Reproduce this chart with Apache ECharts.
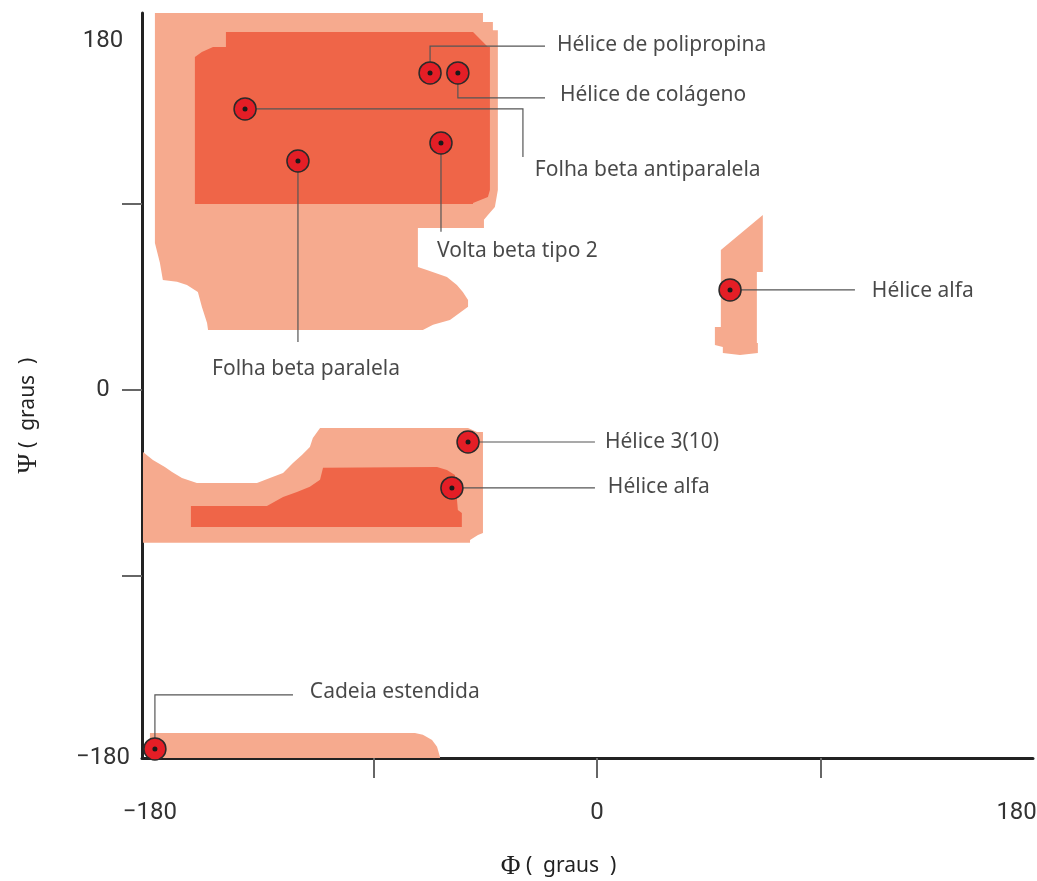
<!DOCTYPE html>
<html>
<head>
<meta charset="utf-8">
<script src="https://cdn.jsdelivr.net/npm/echarts@6/dist/echarts.min.js"></script>
<style>
  html, body { margin: 0; padding: 0; background: #fff; }
  #chart { width: 1037px; height: 881px; }
</style>
</head>
<body>
<div id="chart"></div>
<script>
// eixos (graus)
const phiTicks = [-90, 0, 90];
const psiTicks = [-90, 0, 90];
const phiLabelAt = [-180, 0, 169];
const psiLabelAt = [-178, 0, 169];
const tickText = ['\u2212180', '0', '180'];

// regiões permitidas [phi, psi]
const lightTop = [[-178.0, 182.4], [-45.9, 182.4], [-45.9, 178.0], [-41.9, 178.0], [-41.9, 174.0],
  [-39.9, 174.0], [-39.9, 96.8],
  [-41.1, 88.5], [-43.9, 84.7], [-45.5, 82.3], [-45.5, 78.4], [-72.1, 78.4], [-72.1, 59.5],
  [-68.5, 58.1], [-60.4, 54.7], [-56.4, 50.8], [-54.0, 47.4], [-51.9, 43.5], [-51.9, 40.2],
  [-55.2, 37.3], [-59.2, 33.9], [-66.0, 31.5], [-70.1, 29.0], [-156.6, 29.0], [-157.0, 32.4],
  [-159.1, 40.2], [-160.7, 47.4], [-165.1, 50.8], [-169.1, 52.3], [-174.8, 53.2], [-176.0, 61.5],
  [-178.0, 71.1]];
const lightRight = [[66.8, 84.7], [49.9, 67.7], [49.9, 30.5], [47.5, 30.5], [47.5, 21.8], [50.7, 20.8],
  [50.7, 17.9], [57.6, 16.9], [64.8, 17.9], [64.8, 22.7], [64.4, 22.7], [64.4, 57.1], [66.8, 57.1]];
const lightMid = [[-182.8, -30.0], [-178.8, -33.9], [-174.0, -37.3], [-171.1, -39.7], [-167.1, -42.6],
  [-161.1, -45.0], [-136.9, -45.0], [-131.7, -42.6], [-126.4, -40.2], [-122.4, -35.3], [-118.8, -31.5],
  [-115.6, -27.6], [-114.4, -23.2], [-111.5, -18.4], [-51.9, -18.4], [-48.3, -20.3], [-45.9, -20.3],
  [-45.9, -69.2], [-47.9, -70.2], [-51.1, -72.6], [-51.1, -74.0], [-182.8, -74.0]];
const lightBottom = [[-180.0, -166.0], [-73.3, -166.0], [-70.1, -166.9], [-66.4, -169.4], [-64.4, -172.7],
  [-63.2, -177.6], [-63.2, -178.1], [-180.0, -178.1]];
const darkTop = [[-149.4, 173.2], [-49.9, 173.2], [-43.9, 166.0], [-43.1, 166.0], [-43.1, 96.8],
  [-43.9, 93.4], [-49.9, 90.5], [-49.9, 90.0], [-161.9, 90.0], [-161.9, 161.1], [-159.1, 163.5],
  [-154.6, 166.0], [-149.4, 166.0]];
const darkMid = [[-163.5, -66.3], [-163.5, -56.1], [-132.9, -56.1], [-126.4, -51.8], [-120.8, -49.4],
  [-115.6, -46.9], [-111.5, -43.5], [-110.3, -37.7], [-64.4, -37.3], [-60.4, -38.7], [-57.2, -41.1],
  [-56.0, -58.1], [-54.4, -59.5], [-54.4, -66.3]];

// estruturas
const motifNames = ['Hélice de polipropina', 'Hélice de colágeno', 'Folha beta antiparalela',
  'Volta beta tipo 2', 'Folha beta paralela', 'Hélice alfa', 'Hélice 3(10)', 'Hélice alfa',
  'Cadeia estendida'];
const motifPhi = [-67.2, -56.0, -141.7, -62.8, -120.4, 53.6, -51.9, -58.4, -178.0];
const motifPsi = [153.4, 153.4, 136.0, 119.5, 110.8, 48.4, -25.2, -47.4, -173.7];

// linhas de chamada e posição dos textos
const leaderPaths = [
  [[-67.2, 153.4], [-67.2, 166.4], [-20.9, 166.4]],
  [[-56.0, 153.4], [-56.0, 141.3], [-20.9, 141.3]],
  [[-141.7, 136.0], [-29.8, 136.0], [-29.8, 112.7]],
  [[-62.8, 119.5], [-62.8, 76.5]],
  [[-120.4, 110.8], [-120.4, 23.2]],
  [[53.6, 48.4], [103.9, 48.4]],
  [[-51.9, -25.2], [-0.8, -25.2]],
  [[-58.4, -47.4], [-0.8, -47.4]],
  [[-178.0, -173.7], [-178.0, -147.6], [-122.4, -147.6]]
];
const labelPhi = [-16.1, -14.9, -25.0, -64.4, -155.0, 110.7, 3.2, 4.4, -115.6];
const labelPsi = [166.9, 142.7, 106.5, 67.3, 10.2, 47.9, -25.2, -46.9, -146.1];

const LIGHT = '#F6AA8E';
const DARK = '#EF6548';
const textFont = "'Noto Sans', 'DejaVu Sans', sans-serif";
const tickFont = "'Liberation Sans Narrow', 'Roboto', sans-serif";
const greekFont = "'Liberation Serif', 'DejaVu Serif', serif";

function tickFormatter(at) {
  return function (v) {
    for (let i = 0; i < at.length; i++) {
      if (Math.abs(at[i] - v) < 0.5) return tickText[i];
    }
    return '';
  };
}

function regionSeries(regions, color, z) {
  return {
    type: 'custom',
    silent: true,
    z: z,
    data: regions.map(r => r[0]),
    renderItem: function (params, api) {
      const pts = regions[params.dataIndex].map(p => api.coord(p));
      return { type: 'polygon', shape: { points: pts }, style: { fill: color } };
    }
  };
}

const motifData = motifPhi.map((p, i) => [p, motifPsi[i]]);
const labelData = labelPhi.map((p, i) => [p, labelPsi[i], motifNames[i]]);

const chart = echarts.init(document.getElementById('chart'));
chart.setOption({
  animation: false,
  backgroundColor: '#fff',
  grid: { left: 142, right: 4, top: 13, bottom: 123, outerBoundsMode: 'none' },
  xAxis: {
    type: 'value',
    min: -183.2,
    max: 175.6,
    splitLine: { show: false },
    axisLine: { show: true, onZero: false, lineStyle: { color: '#222', width: 3 } },
    axisTick: { show: true, customValues: phiTicks, length: 20, lineStyle: { color: '#666', width: 2 } },
    axisLabel: {
      customValues: phiLabelAt, formatter: tickFormatter(phiLabelAt),
      margin: 43, fontSize: 24, fontFamily: tickFont, color: '#333'
    },
    name: '{g|\u03A6} (  graus  )',
    nameLocation: 'middle',
    nameGap: 95,
    nameTextStyle: {
      fontFamily: textFont, fontSize: 21, color: '#222', padding: [0, 58, 0, 0],
      rich: { g: { fontFamily: greekFont, fontSize: 27, color: '#222' } }
    }
  },
  yAxis: {
    type: 'value',
    min: -178.1,
    max: 182.4,
    splitLine: { show: false },
    axisLine: { show: true, onZero: false, lineStyle: { color: '#222', width: 3 } },
    axisTick: { show: true, customValues: psiTicks, length: 20, lineStyle: { color: '#666', width: 2 } },
    axisLabel: {
      customValues: psiLabelAt, formatter: tickFormatter(psiLabelAt),
      margin: 39, align: 'center', fontSize: 24, fontFamily: tickFont, color: '#333'
    },
    name: '{g|\u03A8} (  graus  )',
    nameLocation: 'middle',
    nameRotate: 90,
    nameGap: 100,
    nameTextStyle: {
      fontFamily: textFont, fontSize: 21, color: '#222', padding: [0, 60, 0, 0],
      rich: { g: { fontFamily: greekFont, fontSize: 27, color: '#222' } }
    }
  },
  series: [
    regionSeries([lightTop, lightRight, lightMid, lightBottom], LIGHT, 1),
    regionSeries([darkTop, darkMid], DARK, 2),
    {
      type: 'lines',
      coordinateSystem: 'cartesian2d',
      polyline: true,
      silent: true,
      z: 3,
      lineStyle: { color: '#555', width: 1.2, opacity: 1 },
      data: leaderPaths.map(c => ({ coords: c }))
    },
    {
      type: 'scatter',
      z: 4,
      symbolSize: 22,
      itemStyle: { color: '#E41E26', borderColor: '#2a2a2a', borderWidth: 1.5, opacity: 1 },
      data: motifData
    },
    {
      type: 'scatter',
      z: 5,
      symbolSize: 5,
      itemStyle: { color: '#1a1a1a', opacity: 1 },
      data: motifData
    },
    {
      type: 'scatter',
      z: 6,
      symbolSize: 0,
      silent: true,
      label: {
        show: true, position: 'right', distance: 0,
        formatter: p => p.value[2],
        fontFamily: textFont, fontSize: 21, color: '#1a1a1a'
      },
      data: labelData
    }
  ]
});
</script>
</body>
</html>
